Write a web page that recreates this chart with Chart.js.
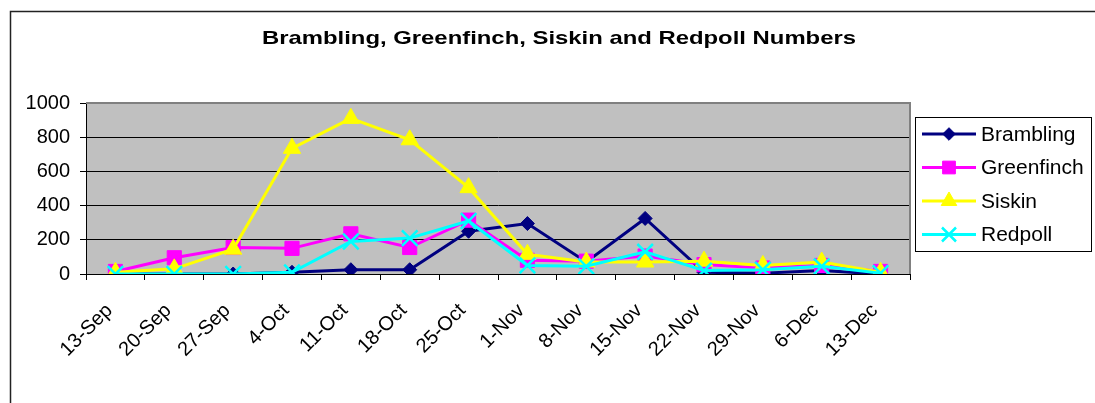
<!DOCTYPE html>
<html>
<head>
<meta charset="utf-8">
<script src="https://cdn.jsdelivr.net/npm/chart.js@4"></script>
<style>
  html, body { margin: 0; padding: 0; background: #fff; }
</style>
</head>
<body>
<canvas id="birdChart" width="1095" height="403"></canvas>
<script>
var weeks = ['13-Sep', '20-Sep', '27-Sep', '4-Oct', '11-Oct', '18-Oct', '25-Oct',
  '1-Nov', '8-Nov', '15-Nov', '22-Nov', '29-Nov', '6-Dec', '13-Dec'];
var brambling  = [0, 0, 0, 10, 25, 25, 250, 295, 70, 325, 10, 5, 20, 0];
var greenfinch = [15, 95, 155, 150, 235, 155, 315, 80, 75, 105, 55, 35, 50, 15];
var siskin     = [10, 30, 145, 735, 910, 785, 505, 115, 70, 70, 75, 50, 70, 10];
var redpoll    = [0, 0, 0, 10, 190, 210, 310, 50, 45, 130, 20, 25, 45, 5];
var yTicks = [0, 200, 400, 600, 800, 1000];

var title = 'Brambling, Greenfinch, Siskin and Redpoll Numbers';
var font = 'Arial, "Liberation Sans", sans-serif';

// plot background, outer frame
var framePlugin = {
  id: 'frame',
  beforeDraw: function (chart) {
    var c = chart.ctx, a = chart.chartArea;
    c.save();
    c.fillStyle = '#fff';
    c.fillRect(0, 0, chart.width, chart.height);
    c.strokeStyle = '#222';
    c.lineWidth = 1.5;
    c.strokeRect(10.5, 11.5, 1200, 600);
    c.fillStyle = '#c0c0c0';
    c.fillRect(a.left, a.top, a.right - a.left, a.bottom - a.top);
    c.restore();
  },
  beforeDatasetsDraw: function (chart) {
    var c = chart.ctx, a = chart.chartArea;
    c.save();
    c.strokeStyle = '#808080';
    c.lineWidth = 2;
    c.beginPath();
    c.moveTo(a.left, a.top);
    c.lineTo(a.right, a.top);
    c.lineTo(a.right, a.bottom);
    c.stroke();
    c.restore();
  }
};

// stretched text, the original renders its fonts wider than Arial
function wideText(c, txt, x, y, width) {
  var w = c.measureText(txt).width;
  c.save();
  c.translate(x, y);
  c.scale(width / w, 1);
  c.fillText(txt, 0, 0);
  c.restore();
}

// title and Excel-like legend box
var textPlugin = {
  id: 'texts',
  afterDraw: function (chart) {
    var c = chart.ctx;
    c.save();
    c.fillStyle = '#000';
    c.font = 'bold 19px ' + font;
    c.textAlign = 'center';
    c.textBaseline = 'alphabetic';
    wideText(c, title, 559, 44, 594);

    c.strokeStyle = '#000';
    c.lineWidth = 1;
    c.strokeRect(915.5, 117.5, 176, 134);
    c.font = '20px ' + font;
    c.textAlign = 'left';
    c.textBaseline = 'middle';
    chart.data.datasets.forEach(function (ds, i) {
      var y = 134 + i * 33.5;
      c.strokeStyle = ds.borderColor;
      c.lineWidth = 3;
      c.beginPath();
      c.moveTo(922, y);
      c.lineTo(976, y);
      c.stroke();
      c.fillStyle = ds.pointBackgroundColor;
      c.lineWidth = ds.pointBorderWidth;
      Chart.helpers.drawPoint(c, {
        pointStyle: ds.pointStyle,
        radius: ds.pointRadius * 0.9,
        borderWidth: ds.pointBorderWidth
      }, 949, y);
      c.fillStyle = '#000';
      var w = c.measureText(ds.label).width;
      wideText(c, ds.label, 981, y + 1, w * 1.05);
    });
    c.restore();
  }
};

function series(label, data, color, style, radius, bw, order) {
  return {
    label: label,
    data: data,
    borderColor: color,
    backgroundColor: color,
    pointBackgroundColor: color,
    pointBorderColor: color,
    borderWidth: 3,
    pointStyle: style,
    pointRadius: radius,
    pointBorderWidth: bw,
    tension: 0,
    order: order
  };
}

new Chart(document.getElementById('birdChart'), {
  type: 'line',
  data: {
    labels: weeks,
    datasets: [
      series('Brambling', brambling, '#000080', 'rectRot', 7, 1, 4),
      series('Greenfinch', greenfinch, '#ff00ff', 'rect', 10, 1, 3),
      series('Siskin', siskin, '#ffff00', 'triangle', 10, 1, 2),
      series('Redpoll', redpoll, '#00ffff', 'crossRot', 11, 2.5, 1)
    ]
  },
  options: {
    responsive: false,
    animation: false,
    layout: { padding: { left: 0, right: 185, top: 103, bottom: 0 } },
    plugins: {
      legend: { display: false },
      title: { display: false },
      tooltip: { enabled: false }
    },
    scales: {
      x: {
        offset: true,
        afterFit: function (scale) { scale.height = 129; },
        grid: { offset: true, drawOnChartArea: false, color: '#000', tickLength: 6 },
        border: { color: '#000', width: 1 },
        ticks: {
          autoSkip: false, minRotation: 45, maxRotation: 45, padding: 19, labelOffset: -6,
          color: '#000', font: { family: font, size: 20 }
        }
      },
      y: {
        min: 0,
        max: 1000,
        afterFit: function (scale) { scale.width = 86; },
        afterBuildTicks: function (scale) {
          scale.ticks = yTicks.map(function (v) { return { value: v }; });
        },
        grid: { color: '#000', tickLength: 6 },
        border: { color: '#000', width: 1 },
        ticks: {
          padding: 10, color: '#000', font: { family: font, size: 20 },
          callback: function (v) { return String(v); }
        }
      }
    }
  },
  plugins: [framePlugin, textPlugin]
});
</script>
</body>
</html>
